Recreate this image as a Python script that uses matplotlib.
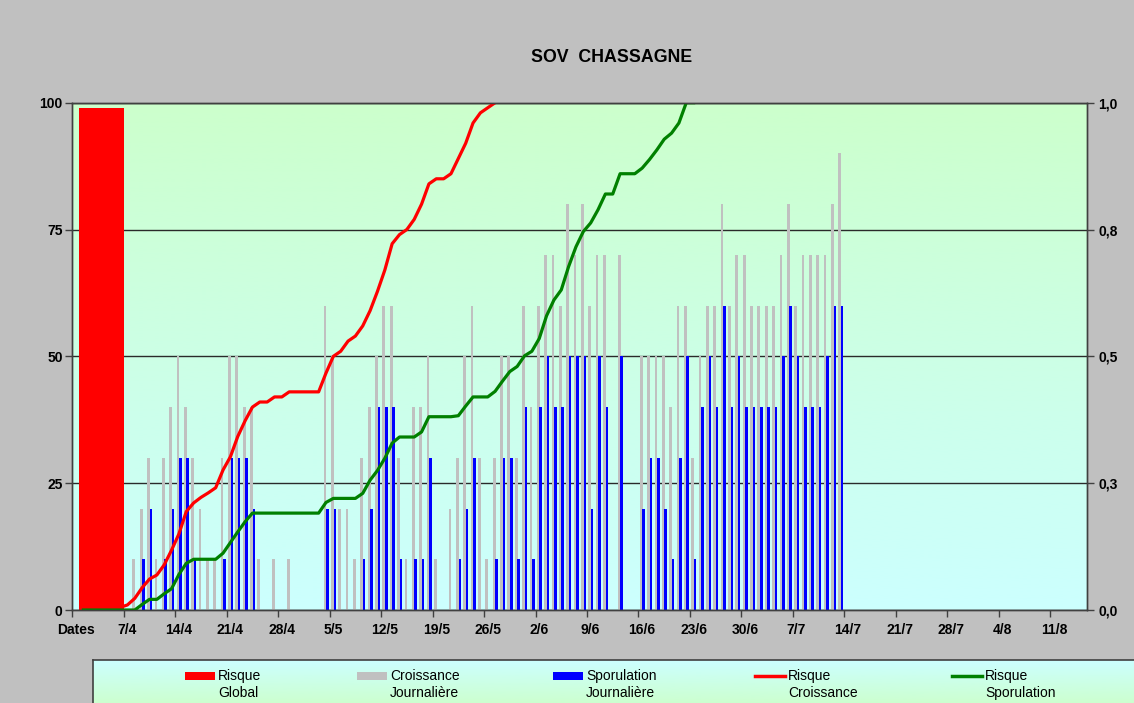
import numpy as np
import matplotlib
matplotlib.use("Agg")
import matplotlib.pyplot as plt
from matplotlib.patches import Rectangle
from matplotlib.lines import Line2D

plt.rcParams['font.family'] = ['Liberation Sans', 'DejaVu Sans']

# ---------------- data ----------------
title = "SOV  CHASSAGNE"
first_label = "Dates"
date_labels = ["7/4", "14/4", "21/4", "28/4", "5/5", "12/5", "19/5", "26/5",
               "2/6", "9/6", "16/6", "23/6", "30/6", "7/7", "14/7", "21/7",
               "28/7", "4/8", "11/8"]
n_days = 138
left_ticks = [0, 25, 50, 75, 100]
right_ticks = [0.0, 0.25, 0.5, 0.75, 1.0]
right_tick_labels = ["0,0", "0,3", "0,5", "0,8", "1,0"]

risque_global = [99]

croissance = [0, 0, 0, 0, 0, 0, 0, 0,
              10, 20, 30, 10, 30, 40, 50, 40,
              30, 20, 10, 10, 30, 50, 50, 40,
              40, 10, 0, 10, 0, 10, 0, 0,
              0, 0, 60, 50, 20, 20, 10, 30,
              40, 50, 60, 60, 30, 10, 40, 40,
              50, 10, 0, 20, 30, 50, 60, 30,
              10, 30, 50, 50, 30, 60, 40, 60,
              70, 70, 60, 80, 70, 80, 60, 70,
              70, 0, 70, 0, 0, 50, 50, 50,
              50, 40, 60, 60, 30, 50, 60, 60,
              80, 60, 70, 70, 60, 60, 60, 60,
              70, 80, 60, 70, 70, 70, 70, 80,
              90]

sporulation = [0, 0, 0, 0, 0, 0, 0, 0,
               0, 10, 20, 0, 10, 20, 30, 30,
               10, 0, 0, 0, 10, 30, 30, 30,
               20, 0, 0, 0, 0, 0, 0, 0,
               0, 0, 20, 20, 0, 0, 0, 10,
               20, 40, 40, 40, 10, 0, 10, 10,
               30, 0, 0, 0, 10, 20, 30, 0,
               0, 10, 30, 30, 10, 40, 10, 40,
               50, 40, 40, 50, 50, 50, 20, 50,
               40, 0, 50, 0, 0, 20, 30, 30,
               20, 10, 30, 50, 10, 40, 50, 40,
               60, 40, 50, 40, 40, 40, 40, 40,
               50, 60, 50, 40, 40, 40, 50, 60,
               60]

risque_croissance_start = 1
risque_croissance = [0, 0, 0, 0, 0, 0.5, 1.0,
                     2.3, 4.4, 6.1, 6.9, 8.9, 11.8, 15.0, 19.4,
                     21.1, 22.2, 23.1, 24.1, 27.6, 30.2, 34.2, 37.3,
                     40.0, 41.0, 41.0, 42.0, 42.0, 43.0, 43.0, 43.0,
                     43.0, 43.0, 46.7, 50.0, 51.0, 53.0, 54.0, 56.0,
                     59.0, 62.8, 67.0, 72.2, 74.0, 75.0, 77.0, 80.0,
                     84.0, 85.0, 85.0, 86.0, 89.0, 92.0, 96.0, 98.0,
                     99.0, 100.0]

risque_sporulation_start = 1
risque_sporulation = [0, 0, 0, 0, 0, 0, 0, 0,
                      1.1, 2.1, 2.1, 3.2, 4.2, 7.0, 9.2,
                      10.0, 10.0, 10.0, 10.0, 11.2, 13.3, 15.4, 17.4,
                      19.1, 19.1, 19.1, 19.1, 19.1, 19.1, 19.1, 19.1,
                      19.1, 19.1, 21.2, 22.0, 22.0, 22.0, 22.0, 23.0,
                      25.6, 27.5, 29.9, 32.9, 34.1, 34.1, 34.1, 35.1,
                      38.1, 38.1, 38.1, 38.1, 38.3, 40.2, 42.0, 42.0,
                      42.0, 43.1, 45.1, 47.0, 48.0, 50.1, 51.0, 53.5,
                      58.0, 61.1, 63.1, 67.7, 71.6, 74.6, 76.3, 78.9,
                      82.0, 82.0, 86.0, 86.0, 86.0, 87.1, 88.8, 90.7,
                      92.8, 94.0, 96.0, 100.0, 100.0]

legend_labels = ["Risque\nGlobal", "Croissance\nJournalière", "Sporulation\nJournalière",
                 "Risque\nCroissance", "Risque\nSporulation"]

# ---------------- styles ----------------
C_BG = "#C0C0C0"
C_RED = "#FF0000"
C_GRAY = "#C0C0C0"
C_BLUE = "#0000FF"
C_GREEN = "#008000"
C_GRID = "#2a2a2a"

W, H = 1134, 703
fig = plt.figure(figsize=(W / 100, H / 100), dpi=100, facecolor=C_BG)

L, R, T, B = 72.3, 1087.0, 102.7, 610.0
ax = fig.add_axes([L / W, 1 - B / H, (R - L) / W, (B - T) / H])

# gradient colours
green_c = np.array([204, 255, 204]) / 255
cyan_c = np.array([204, 255, 255]) / 255


def vgrad(top, bottom, n=256):
    t = np.linspace(0, 1, n).reshape(-1, 1, 1)
    return top[None, None, :] * (1 - t) + bottom[None, None, :] * t


# first row of image is drawn at the top with origin='upper'
ax.imshow(vgrad(green_c, cyan_c), extent=[-0.5, n_days - 0.5, 0, 100],
          aspect='auto', zorder=0, interpolation='bilinear', origin='upper')
ax.set_xlim(-0.5, n_days - 0.5)
ax.set_ylim(0, 100)

# gridlines
ax.set_axisbelow(True)
ax.set_yticks(left_ticks)
ax.yaxis.grid(True, color=C_GRID, lw=1.0, zorder=0.5)

# global risk bar
ax.bar([0 + 3.47], risque_global, width=6.04, color=C_RED, zorder=2, linewidth=0)

# daily bars
days = np.arange(len(croissance))
ax.bar(days - 0.13, croissance, width=0.38, color=C_GRAY, zorder=2, linewidth=0)
ax.bar(days + 0.2, sporulation, width=0.35, color=C_BLUE, zorder=2.1, linewidth=0)

# risk lines
xc = np.arange(len(risque_croissance)) + risque_croissance_start
ax.plot(xc, risque_croissance, color=C_RED, lw=2.3, zorder=3, solid_joinstyle='round')
xs = np.arange(len(risque_sporulation)) + risque_sporulation_start
ax.plot(xs, risque_sporulation, color=C_GREEN, lw=2.3, zorder=3, solid_joinstyle='round')

# x axis: labels at category centres, tick marks at boundaries
label_pos = np.arange(0, 7 * (len(date_labels) + 1), 7)
ax.set_xticks(label_pos)
ax.set_xticklabels([first_label] + date_labels, fontsize=10, fontweight='bold')
ax.tick_params(axis='x', which='major', length=0, pad=9)
ax.set_xticks(np.arange(-0.5, n_days, 7), minor=True)
ax.tick_params(axis='x', which='minor', length=5, width=1, color='#404040', direction='out')

ax.set_yticklabels([str(v) for v in left_ticks], fontsize=10, fontweight='bold')
ax.tick_params(axis='y', length=5, width=1, color='#404040', direction='out', pad=2)

for s in ax.spines.values():
    s.set_color('#404040')
    s.set_linewidth(1.0)

ax2 = ax.twinx()
ax2.set_ylim(0, 1)
ax2.set_yticks(right_ticks)
ax2.set_yticklabels(right_tick_labels, fontsize=10, fontweight='bold')
ax2.tick_params(axis='y', length=5, width=1, color='#404040', direction='out', pad=3)
for s in ax2.spines.values():
    s.set_color('#404040')
    s.set_linewidth(1.0)

# title
fig.text(612 / W, 1 - 57 / H, title, ha='center', va='center', fontsize=12.8, fontweight='bold')

# ---------------- legend box ----------------
lx0, ly0 = 93.0, 660.0
lax = fig.add_axes([lx0 / W, -3 / H, (W + 40 - lx0) / W, (H + 3 - ly0) / H])
lax.imshow(vgrad(cyan_c, green_c, 64), extent=[lx0, W + 40, H + 3, ly0],
           aspect='auto', zorder=0, origin='upper')
lax.set_xlim(lx0, W + 40)
lax.set_ylim(H + 3, ly0)
lax.set_xticks([])
lax.set_yticks([])
for s in lax.spines.values():
    s.set_color('#404040')
    s.set_linewidth(1.2)

entry_x = [185, 357, 553, 755, 952]
kinds = ['patch', 'patch', 'patch', 'line', 'line']
colors = [C_RED, C_GRAY, C_BLUE, C_RED, C_GREEN]
hw, y1, y2 = 30, 676, 693
for x0, kind, col, lab in zip(entry_x, kinds, colors, legend_labels):
    if kind == 'patch':
        lax.add_patch(Rectangle((x0, y1 - 3.7), hw, 7.4, color=col, lw=0, zorder=2))
    else:
        lax.add_line(Line2D([x0, x0 + hw], [y1, y1], color=col, lw=2.5, zorder=2))
    l1, l2 = lab.split("\n")
    lax.text(x0 + hw + 3, y1, l1, ha='left', va='center', fontsize=10, zorder=3)
    lax.text(x0 + hw + 3, y2, l2, ha='left', va='center', fontsize=10, zorder=3)

fig.savefig("out.png", dpi=100, facecolor=C_BG)
